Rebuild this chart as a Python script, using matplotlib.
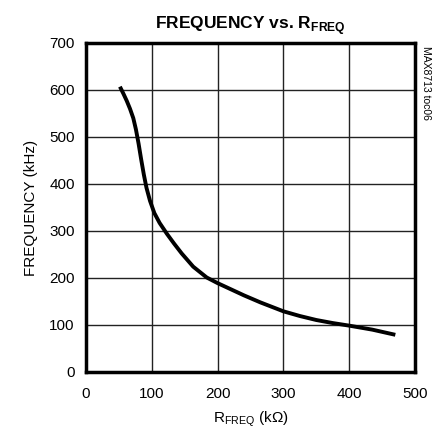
import matplotlib
matplotlib.use('Agg')
import matplotlib.pyplot as plt
from matplotlib import font_manager

# curve
r_freq = [51.7, 57, 62, 67, 72, 76, 80, 84, 88, 92, 97.4, 104, 112, 123, 134, 145.6, 163, 183.5, 200, 220,
          240, 265, 300, 325, 350, 375, 400, 435, 470]
freq = [607, 592, 577, 560, 540, 516, 486, 452, 420, 392, 364, 338, 317, 294, 273, 252, 224, 201, 189, 176,
        163, 148, 129, 119, 110.5, 104, 98.5, 90, 79]

x_ticks = [0, 100, 200, 300, 400, 500]
y_ticks = [0, 100, 200, 300, 400, 500, 600, 700]

names = {f.name for f in font_manager.fontManager.ttflist}
fam = ['Liberation Sans Narrow', 'DejaVu Sans'] if 'Liberation Sans Narrow' in names else ['Liberation Sans', 'DejaVu Sans']
plt.rcParams['font.family'] = fam

fig = plt.figure(figsize=(4.36, 4.34), dpi=100)
ax = fig.add_axes([0.197, 0.143, 0.755, 0.758])

ax.plot(r_freq, freq, color='black', linewidth=2.8, solid_capstyle='butt', solid_joinstyle='round')
ax.set_xlim(0, 500)
ax.set_ylim(0, 700)
ax.set_xticks(x_ticks)
ax.set_yticks(y_ticks)
ax.grid(True, color='#222222', linewidth=1.0)
ax.tick_params(length=0, labelsize=11, pad=8)
ax.tick_params(axis='x', pad=11)
for s in ax.spines.values():
    s.set_linewidth(2.5)

ax.set_xlabel('R$_{\\mathregular{FREQ}}$ (k$\\mathregular{\\Omega}$)', fontsize=11, labelpad=6)
ax.set_ylabel('FREQUENCY (kHz)', fontsize=11, labelpad=8)
ax.set_title('FREQUENCY vs. R$_{\\mathregular{FREQ}}$', fontsize=12.5, fontweight='bold', pad=10)
fig.text(0.976, 0.81, 'MAX8713 toc06', rotation=270, fontsize=7.5, ha='center', va='center')

fig.savefig('out.png', dpi=100)
